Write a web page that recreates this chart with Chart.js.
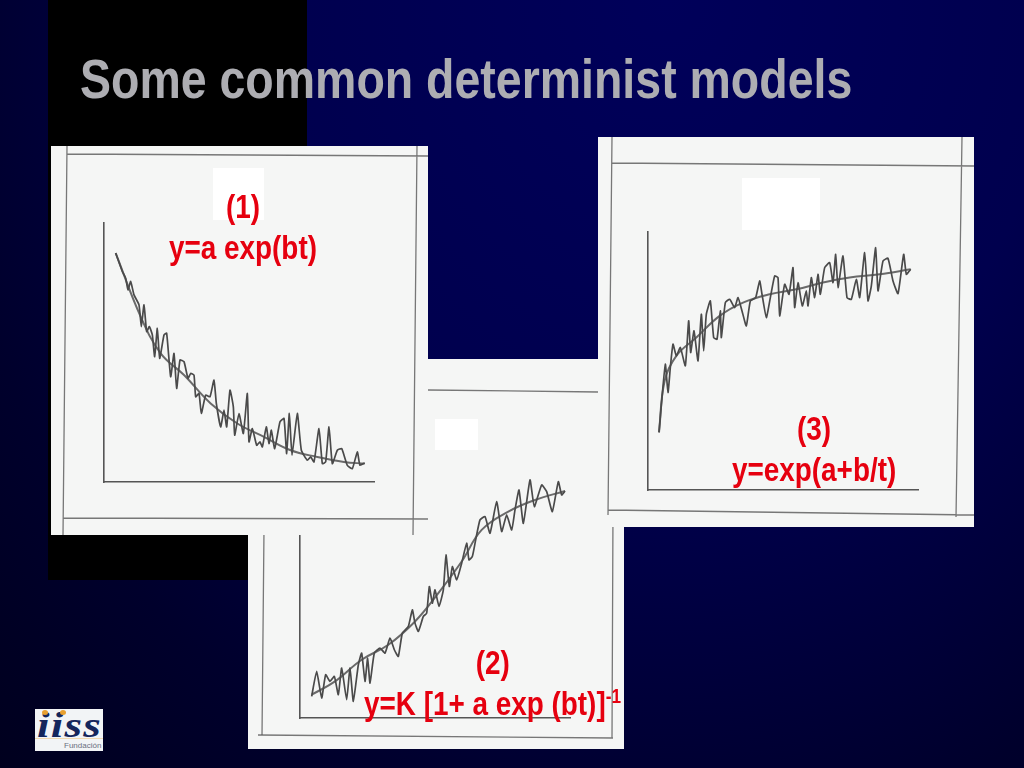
<!DOCTYPE html>
<html>
<head>
<meta charset="utf-8">
<title>Some common determinist models</title>
<script src="https://cdn.jsdelivr.net/npm/chart.js@4"></script>
<style>
  html, body { margin: 0; padding: 0; }
  body { width: 1024px; height: 768px; position: relative; overflow: hidden;
         background: radial-gradient(ellipse at 65% 0%, #00005a 0%, #00004e 42%, #00002c 78%, #00001e 100%);
         font-family: "Liberation Sans", Arial, sans-serif; }
  .abs { position: absolute; }
  .panel { position: absolute; background: #f5f6f5; }
  .panel canvas { position: absolute; left: 0; top: 0; }
  .panel svg { position: absolute; left: 0; top: 0; }
  .patch { position: absolute; background: #fff; }
  .label { position: absolute; color: #e6000f; font-weight: bold; font-size: 34px; text-align: center; white-space: nowrap; line-height: 41px; transform: scaleX(0.82); }
  sup { font-size: 21px; line-height: 0; }
</style>
</head>
<body>
<div class="abs" style="left:48px;top:0;width:259px;height:580px;background:#000"></div>
<div class="abs" id="title" style="left:80px;top:46px;color:#adadb2;font-weight:bold;font-size:56px;line-height:66px;white-space:nowrap;transform:scaleX(0.83);transform-origin:left top">Some common determinist models</div>

<div class="panel" style="left:248px;top:359px;width:376px;height:390px">
  <div class="patch" style="left:187px;top:60px;width:43px;height:31px"></div>
  <svg width="376" height="390" fill="none" stroke="#777" stroke-width="1.3">
    <path d="M16 170 L14 377 M365 150 L364 379 M10 376 L365 379 M180 31 L350 33"/>
  </svg>
  <canvas id="chart2" width="376" height="390" style="width:376px;height:390px"></canvas>
</div>

<div class="panel" style="left:51px;top:146px;width:377px;height:389px">
  <div class="patch" style="left:162px;top:22px;width:51px;height:52px"></div>
  <svg width="377" height="389" fill="none" stroke="#777" stroke-width="1.3">
    <path d="M16 0 L12 389 M366 0 L362 389 M16 8 L377 10 M12 372 L377 373"/>
  </svg>
  <canvas id="chart1" width="377" height="389" style="width:377px;height:389px"></canvas>
</div>

<div class="panel" style="left:598px;top:137px;width:376px;height:390px">
  <div class="patch" style="left:144px;top:41px;width:78px;height:52px"></div>
  <svg width="376" height="390" fill="none" stroke="#777" stroke-width="1.3">
    <path d="M14 0 L10 378 M364 0 L358 380 M14 26 L376 29 M10 373 L376 378"/>
  </svg>
  <canvas id="chart3" width="376" height="390" style="width:376px;height:390px"></canvas>
</div>

<div class="label" style="left:143px;top:186px;width:200px">(1)<br>y=a exp(bt)</div>
<div class="label" style="left:337px;top:642px;width:300px"><span style="position:relative;left:7px">(2)</span><br>y=K [1+ a exp (bt)]<sup>-1</sup></div>
<div class="label" style="left:714px;top:408px;width:200px">(3)<br>y=exp(a+b/t)</div>

<div class="abs" style="left:35px;top:709px;width:68px;height:42px;background:#f2f4f6;overflow:hidden">
  <div class="abs" style="left:2px;top:-5px;font:italic bold 36px 'Liberation Serif',serif;color:#14265c;transform:scaleX(1.25);transform-origin:left top;letter-spacing:1px">iiss</div>
  <div class="abs" style="left:7px;top:1px;width:6px;height:5px;border-radius:50%;background:#e8a030"></div>
  <div class="abs" style="left:25px;top:1px;width:6px;height:5px;border-radius:50%;background:#e8a030"></div>
  <div class="abs" style="left:0;top:29px;width:68px;height:1px;background:#f0d9b0"></div>
  <div class="abs" style="left:29px;top:32px;font:8px 'Liberation Sans',sans-serif;color:#6a6f80">Fundación</div>
</div>

<script>
// model 1, y=a exp(bt)
var noisy1T = [35,55,65,72,80,90,105,112,120,128,136,145,152,160,167,180,188,200,210,218,228,240,252,260,270,275,285,292,305,318,330,337,350,360,368,378,388,392,405,418,430,435,445,458,468,475,487,495,502,512,528,540,548,556,564,580,592,610,620,630,645,655,665,675,685,700,713,730,745,760,768,782];
var noisy1Y = [685,630,610,575,600,560,530,465,530,450,465,440,375,460,370,440,445,315,385,280,365,360,310,325,320,255,265,205,260,255,305,235,165,215,165,275,225,140,205,145,265,120,160,110,120,105,165,115,155,100,180,190,85,205,80,205,95,65,75,60,160,55,60,165,55,95,100,50,40,90,50,57];
var trend1T = [35,110,170,240,320,400,480,560,640,720,782];
var trend1Y = [685,495,385,320,235,175,135,95,75,60,55];

// model 2, y=K [1+ a exp (bt)]^-1
var noisy2T = [35,50,65,77,90,103,115,125,140,150,160,175,185,195,203,210,223,240,255,270,283,295,307,325,337,345,355,370,380,388,397,405,417,430,438,448,457,470,485,500,507,517,527,540,555,570,590,605,620,635,645,657,670,690,703,725,740,757,775,785,795];
var noisy2Y = [65,140,60,130,110,125,70,150,55,150,50,160,195,110,180,105,195,210,195,240,205,185,255,275,325,285,260,305,315,395,345,385,335,385,490,395,455,415,465,525,475,485,535,595,605,555,650,560,610,565,625,685,585,715,635,700,680,620,710,670,682];
var trend2T = [35,105,185,265,345,415,485,545,625,705,795];
var trend2Y = [70,110,175,220,290,375,470,565,620,655,682];

// model 3, y=exp(a+b/t)
var noisy3T = [33,42,52,60,67,75,85,97,112,122,128,138,150,160,167,175,187,197,207,217,220,232,245,260,270,282,295,307,323,335,342,355,367,380,390,395,410,423,435,440,450,463,475,480,490,500,510,517,530,545,555,563,570,585,597,610,625,635,650,660,670,683,690,705,720,735,750,767,775,788];
var noisy3Y = [173,278,378,293,368,438,403,428,373,508,413,478,388,528,418,528,568,458,453,538,458,563,573,548,578,538,493,568,578,628,588,518,578,643,638,523,618,588,668,548,623,553,598,553,638,578,648,588,668,683,623,708,608,703,578,573,633,578,713,568,613,728,598,688,696,628,590,708,648,663];
var trend3T = [33,50,85,145,215,285,365,445,525,605,695,788];
var trend3Y = [173,328,403,458,523,563,588,603,623,638,648,663];

var xMax = 810;
var yMax = 775;

function zip(t, y) {
  return t.map(function(v, i) { return { x: v, y: y[i] }; });
}

function drawModel(id, noisyT, noisyY, trendT, trendY, pad) {
  var ctx = document.getElementById(id).getContext("2d");
  return new Chart(ctx, {
    type: "line",
    data: {
      datasets: [
        { data: zip(noisyT, noisyY), borderColor: "#4a4a4a", borderWidth: 1.7, pointRadius: 0, tension: 0.15, fill: false },
        { data: zip(trendT, trendY), borderColor: "#6a6a6a", borderWidth: 2, pointRadius: 0, tension: 0.4, fill: false }
      ]
    },
    options: {
      responsive: false,
      animation: false,
      layout: { padding: pad },
      plugins: { legend: { display: false }, tooltip: { enabled: false } },
      scales: {
        x: { type: "linear", min: 0, max: xMax, grid: { display: false, drawTicks: false }, ticks: { display: false },
             border: { display: true, color: "#555", width: 1.6 } },
        y: { type: "linear", min: 0, max: yMax, grid: { display: false, drawTicks: false }, ticks: { display: false },
             border: { display: true, color: "#555", width: 1.6 } }
      }
    }
  });
}

drawModel("chart1", noisy1T, noisy1Y, trend1T, trend1Y, { left: 53, top: 77, right: 54, bottom: 53 });
drawModel("chart2", noisy2T, noisy2Y, trend2T, trend2Y, { left: 52, top: 101, right: 54, bottom: 31 });
drawModel("chart3", noisy3T, noisy3Y, trend3T, trend3Y, { left: 50, top: 95, right: 56, bottom: 37 });
</script>
</body>
</html>
